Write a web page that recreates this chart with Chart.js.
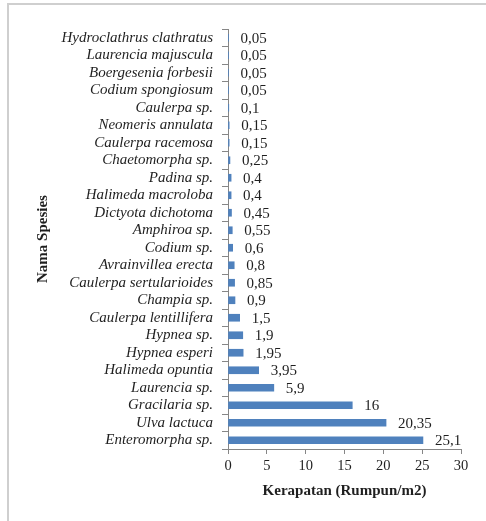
<!DOCTYPE html>
<html><head><meta charset="utf-8">
<script src="https://cdn.jsdelivr.net/npm/chart.js@4"></script>
<style>
html,body{margin:0;padding:0;background:#fff;overflow:hidden;}
#wrap{position:absolute;left:0;top:0;width:486px;height:521px;}
#frame{position:absolute;left:7px;top:3px;width:600px;height:600px;border-left:2px solid #cfcfcf;border-top:2px solid #cfcfcf;}
canvas{position:absolute;left:0;top:0;}
</style></head>
<body><div id="wrap"><div id="frame"></div><canvas id="c" width="486" height="521"></canvas></div>
<script>
const species = ["Hydroclathrus clathratus","Laurencia majuscula","Boergesenia forbesii","Codium spongiosum","Caulerpa sp.","Neomeris annulata","Caulerpa racemosa","Chaetomorpha sp.","Padina sp.","Halimeda macroloba","Dictyota dichotoma","Amphiroa sp.","Codium sp.","Avrainvillea erecta","Caulerpa sertularioides","Champia sp.","Caulerpa lentillifera","Hypnea sp.","Hypnea esperi","Halimeda opuntia","Laurencia sp.","Gracilaria sp.","Ulva lactuca","Enteromorpha sp."];
const kerapatan = [0.05,0.05,0.05,0.05,0.1,0.15,0.15,0.25,0.4,0.4,0.45,0.55,0.6,0.8,0.85,0.9,1.5,1.9,1.95,3.95,5.9,16,20.35,25.1];
const xTicks = [0,5,10,15,20,25,30];
const xTitle = "Kerapatan (Rumpun/m2)";
const yTitle = "Nama Spesies";

const SERIF = "'Liberation Serif','Times New Roman',serif";
const TXT = '#1f1f1f';
const AX = '#868686';

const valueLabels = {
  id:'valueLabels',
  afterDatasetsDraw(chart){
    const ctx = chart.ctx;
    const meta = chart.getDatasetMeta(0);
    ctx.save();
    ctx.font = "15px " + SERIF;
    ctx.fillStyle = TXT;
    ctx.textAlign = 'left';
    ctx.textBaseline = 'middle';
    meta.data.forEach((bar,i)=>{
      const txt = String(kerapatan[i]).replace('.',',');
      ctx.fillText(txt, bar.x + 12, bar.y + 1);
    });
    ctx.restore();
  }
};

new Chart(document.getElementById('c'),{
  type:'bar',
  data:{labels:species,datasets:[{data:kerapatan,backgroundColor:'#4F81BD',barThickness:7}]},
  options:{
    indexAxis:'y',
    responsive:false,
    animation:false,
    events:[],
    layout:{padding:{top:29,right:25,bottom:0,left:0}},
    plugins:{legend:{display:false},tooltip:{enabled:false}},
    scales:{
      x:{
        min:0,max:30,
        afterBuildTicks(s){ s.ticks = xTicks.map(v=>({value:v})); },
        afterFit(s){ s.height = 72; },
        border:{color:AX,width:1},
        grid:{drawOnChartArea:false,drawTicks:true,tickLength:5,color:AX},
        ticks:{color:TXT,font:{family:SERIF,size:14.5},padding:3,maxRotation:0},
        title:{display:true,text:xTitle,color:TXT,font:{family:SERIF,size:15,weight:'bold'},padding:{top:0,bottom:21}}
      },
      y:{
        afterFit(s){ s.width = 228; },
        border:{color:AX,width:1},
        grid:{drawOnChartArea:false,drawTicks:true,tickLength:6,color:AX,offset:true},
        ticks:{color:TXT,font:{family:SERIF,size:15,style:'italic'},padding:9,autoSkip:false},
        title:{display:true,text:yTitle,color:TXT,font:{family:SERIF,size:15,weight:'bold'},padding:{top:34,bottom:0}}
      }
    }
  },
  plugins:[valueLabels]
});
</script></body></html>
